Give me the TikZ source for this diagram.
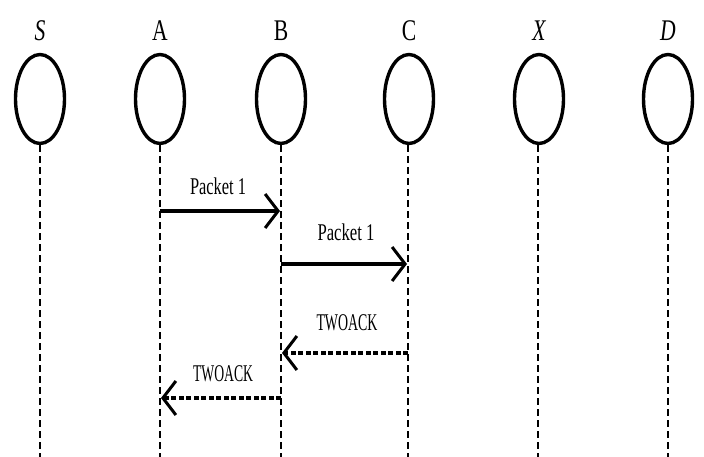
\documentclass[tikz,border=0pt]{standalone}
\usepackage{fontspec}
\setmainfont{Liberation Serif}
\usetikzlibrary{arrows.meta,shapes.geometric}
\begin{document}
\begin{tikzpicture}[x=1pt,y=-1pt,
  ent/.style={draw, ellipse, line width=3.4pt, minimum width=49pt, minimum height=89pt, inner sep=0pt},
  lab/.style={font=\fontsize{30}{32}\selectfont, inner sep=0pt},
  msg/.style={font=\fontsize{24}{26}\selectfont, inner sep=0pt},
  life/.style={line width=2pt, dash pattern=on 7pt off 4pt},
  sendarr/.style={line width=3.4pt, -{Straight Barb[length=13pt,width=34pt,line width=3pt]}},
  ackarr/.style={line width=3.4pt, dash pattern=on 5pt off 2.5pt, -{Straight Barb[length=13pt,width=34pt,line width=3pt]}}]
\useasboundingbox (0,0) rectangle (704,457);
% entities
\node[ent] (S) at (40,99) {};
\node[ent] (A) at (160,99) {};
\node[ent] (B) at (281,99) {};
\node[ent] (C) at (409,99) {};
\node[ent] (X) at (539,99) {};
\node[ent] (D) at (668,99) {};
% names
\node[lab] (Sl) at (40,31) {\scalebox{0.72}[1]{\itshape S}};
\node[lab] (Al) at (160,31) {\scalebox{0.72}[1]{A}};
\node[lab] (Bl) at (281,31) {\scalebox{0.72}[1]{B}};
\node[lab] (Cl) at (409,31) {\scalebox{0.72}[1]{C}};
\node[lab] (Xl) at (539,31) {\scalebox{0.72}[1]{\itshape X}};
\node[lab] (Dl) at (668,31) {\scalebox{0.72}[1]{\itshape D}};
% lifeline ends
\coordinate (Se) at (40,457);
\coordinate (Ae) at (160,457);
\coordinate (Be) at (281,457);
\coordinate (Ce) at (408,457);
\coordinate (Xe) at (538,457);
\coordinate (De) at (668,457);
\draw[life] (S.south) -- (Se);
\draw[life] (A.south) -- (Ae);
\draw[life] (B.south) -- (Be);
\draw[life] (C.south -| Ce) -- (Ce);
\draw[life] (X.south -| Xe) -- (Xe);
\draw[life] (D.south) -- (De);
% message points
\coordinate (a1) at (160,211);
\coordinate (b1) at (280,211);
\coordinate (b2) at (281,264);
\coordinate (c2) at (407,264);
\coordinate (c3) at (408,353);
\coordinate (b3) at (282,353);
\coordinate (b4) at (281,398);
\coordinate (a4) at (161,398);
\draw[sendarr] (a1) -- (b1);
\draw[sendarr] (b2) -- (c2);
\draw[ackarr] (c3) -- (b3);
\draw[ackarr] (b4) -- (a4);
% message labels
\node[msg] (m1) at (218,186) {\resizebox{56pt}{\height}{Packet 1}};
\node[msg] (m2) at (346,232) {\resizebox{57pt}{\height}{Packet 1}};
\node[msg] (m3) at (347,323) {\resizebox{61pt}{\height}{TWOACK}};
\node[msg] (m4) at (223,374) {\resizebox{60pt}{\height}{TWOACK}};
\end{tikzpicture}
\end{document}
